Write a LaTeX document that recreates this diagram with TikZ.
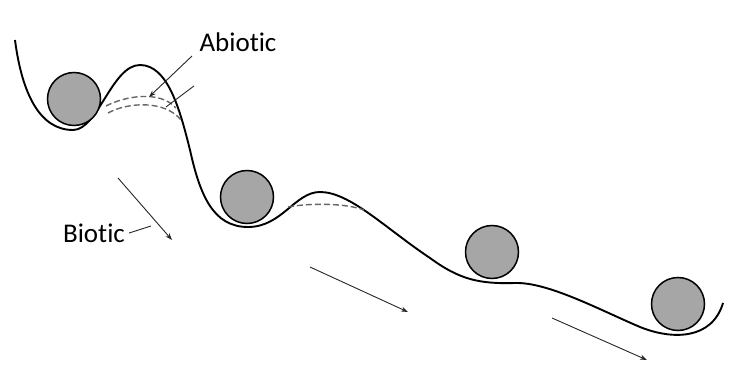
\documentclass[tikz,border=0pt]{standalone}
\usepackage{fontspec}
\setmainfont{Carlito}[Ligatures=NoCommon]
\usetikzlibrary{arrows.meta}

\begin{document}
\begin{tikzpicture}[
    x=1pt, y=-1pt,
    ball/.style={
       circle, draw=black, fill=black!35,
       line width=1.5pt, inner sep=0pt, minimum size=53pt,
       outer sep=0pt
        },
    slope/.style={line width=1.9pt, line join=round},
    hint/.style={line width=1.4pt, black!60, dash pattern=on 6pt off 3pt},
    push/.style={line width=0.9pt, black!85, -{Stealth[length=7pt,width=5pt]}},
    label/.style={font=\fontsize{27}{27}\selectfont, inner sep=0pt}]

\useasboundingbox (0,0) rectangle (745,366);

% the landscape
\draw [slope] (15,40) .. controls (22,94) and (40,130) .. (73,130)
   .. controls (98,130) and (112,65) .. (140,65)
   .. controls (168,65) and (180,110) .. (190,150)
   .. controls (200,195) and (213,227) .. (248,227)
   .. controls (282,227) and (295,192) .. (320,192)
   .. controls (350,192) and (385,228) .. (430,258)
   .. controls (460,280) and (480,284) .. (515,283)
   .. controls (548,282) and (600,310) .. (640,327)
   .. controls (672,340) and (712,340) .. (723,303);

% lowered barriers
\draw [hint] (106,106) .. controls (125,96) and (160,90) .. (176,108);
\draw [hint] (108,113) .. controls (128,102) and (165,100) .. (181,120);
\draw [hint] (288,207) .. controls (310,203) and (345,203) .. (364,210);

% the balls
\foreach [count=\j] \p in {(74,99),(247,197),(492,252),(678,304)} {
   \node [ball] (b-\j) at \p {};
  }

% labels and arrows
\node [label] (abiotic) at (238,42) {Abiotic};
\node [label] (biotic) at (94,233) {Biotic};
\coordinate (a-1) at (192,56);
\coordinate (a-2) at (149,97);
\coordinate (a-3) at (194,86);
\coordinate (a-4) at (166,107);
\draw [push] (a-1) -- (a-2);
\draw [line width=0.9pt, black!85] (a-3) -- (a-4);
\coordinate (t-1) at (118,178);
\coordinate (t-2) at (172,240);
\coordinate (t-3) at (310,267);
\coordinate (t-4) at (408,312);
\coordinate (t-5) at (552,318);
\coordinate (t-6) at (647,360);
\draw [line width=0.9pt, black!85] (biotic.east) ++(4,0) -- (151,226);
\draw [push] (t-1) -- (t-2);
\draw [push] (t-3) -- (t-4);
\draw [push] (t-5) -- (t-6);
\end{tikzpicture}
\end{document}
